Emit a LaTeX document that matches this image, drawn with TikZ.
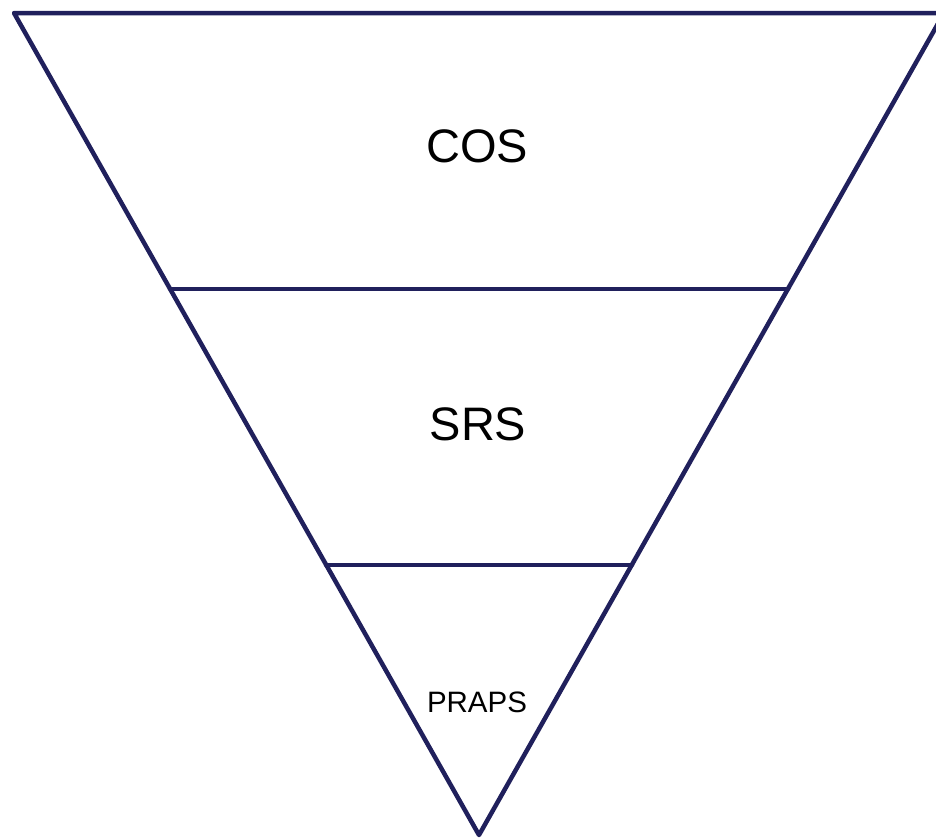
\documentclass[tikz,border=0pt]{standalone}
\usepackage{fontspec}
\setmainfont{Liberation Sans}
\definecolor{navy}{RGB}{32,32,92}
\begin{document}
\begin{tikzpicture}[x=1pt,y=-1pt,
  edge/.style={draw=navy,line width=4.5pt,line join=round,line cap=round},
  biglabel/.style={font=\fontsize{47}{56}\selectfont,text=black},
  smalllabel/.style={font=\fontsize{29.5}{35}\selectfont,text=black}]
\useasboundingbox (0,0) rectangle (936,839);
\clip (0,0) rectangle (936,839);
\coordinate (tl) at (14,13);
\coordinate (tr) at (944,13);
\coordinate (ap) at (479,835);
\coordinate (l1) at (170,289);
\coordinate (r1) at (788,289);
\coordinate (l2) at (326,565);
\coordinate (r2) at (632,565);
\draw[edge] (tl) -- (tr) -- (ap) -- cycle;
\draw[edge] (l1) -- (r1);
\draw[edge] (l2) -- (r2);
\node[biglabel] (cos) at (477,146) {COS};
\node[biglabel] (srs) at (478,424) {SRS};
\node[smalllabel] (praps) at (477,702) {PRAPS};
\end{tikzpicture}
\end{document}
